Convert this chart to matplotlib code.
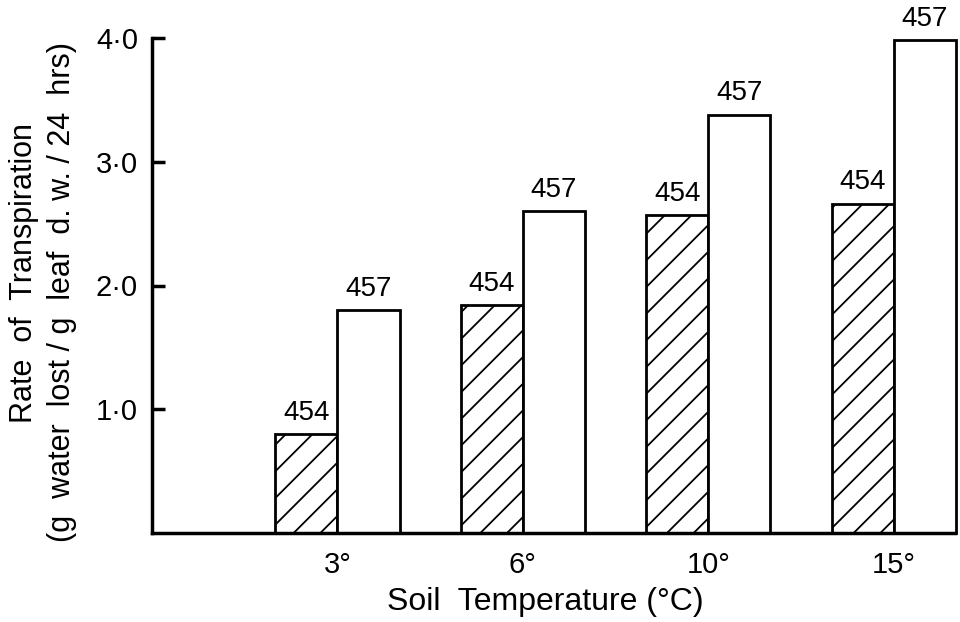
import matplotlib
matplotlib.use("Agg")
import matplotlib.pyplot as plt
import numpy as np

# soil temperatures and transpiration rates
temps = ["3°", "6°", "10°", "15°"]
rate_454 = [0.80, 1.84, 2.57, 2.66]
rate_457 = [1.80, 2.60, 3.38, 3.98]
lab_454 = "454"
lab_457 = "457"
yticks = [1.0, 2.0, 3.0, 4.0]
ytick_labels = ["1·0", "2·0", "3·0", "4·0"]

# drawn at 80 dpi so the single '/' hatch gets the tighter spacing of the original;
# every size in points is scaled by k to keep the 100-dpi look
DPI = 80
k = 100 / DPI

plt.rcParams['font.family'] = ['Liberation Sans', 'DejaVu Sans']
plt.rcParams['hatch.linewidth'] = 1.3 * k

fig = plt.figure(figsize=(960/DPI, 622/DPI), dpi=DPI)
ax = fig.add_axes([152/960, 1-533/622, (955-152)/960, (533-38)/622])

x = np.arange(1, len(temps) + 1)
w = 0.335
b1 = ax.bar(x, rate_454, width=-w, align='edge', color='white',
            edgecolor='black', linewidth=2*k, hatch='/', clip_on=False)
b2 = ax.bar(x, rate_457, width=w, align='edge', color='white',
            edgecolor='black', linewidth=2*k, clip_on=False)

for bars, lab in ((b1, lab_454), (b2, lab_457)):
    for r in bars:
        ax.annotate(lab, (r.get_x() + r.get_width()/2, r.get_height()),
                    xytext=(0, 6*k), textcoords='offset points',
                    ha='center', va='bottom', fontsize=20*k)

ax.set_xlim(0, 4.33)
ax.set_ylim(0, 4.0)
ax.set_xticks(x)
ax.set_xticklabels(temps, fontsize=21*k)
ax.set_yticks(yticks)
ax.set_yticklabels(ytick_labels, fontsize=21*k)
ax.tick_params(axis='x', length=0, pad=13*k)
ax.tick_params(axis='y', direction='in', length=9*k, width=2.5*k, pad=10*k)

for s in ('top', 'right'):
    ax.spines[s].set_visible(False)
for s in ('left', 'bottom'):
    ax.spines[s].set_linewidth(2.5*k)

fig.text(24/960, 1-273/622, "Rate  of  Transpiration", rotation=90,
         ha='center', va='center', fontsize=22*k)
fig.text(62/960, 1-292/622, "(g  water  lost / g  leaf  d. w. / 24  hrs)",
         rotation=90, ha='center', va='center', fontsize=22*k)
fig.text(545/960, 1-602/622, "Soil  Temperature (°C)",
         ha='center', va='center', fontsize=23*k)

fig.savefig("out.png", dpi=DPI)
